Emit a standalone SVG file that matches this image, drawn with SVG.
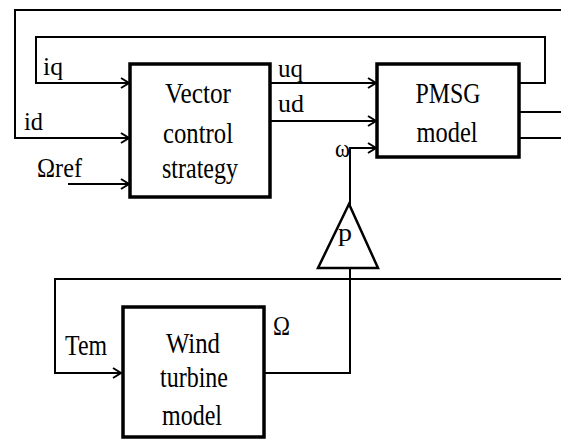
<svg xmlns="http://www.w3.org/2000/svg" width="561" height="439" viewBox="0 0 561 439">
<defs>
<style>
.box{fill:#fff;stroke:#000;stroke-width:3.5}
.ln{fill:none;stroke:#000;stroke-width:2}
.t{font-family:"Liberation Serif","Times New Roman",serif;font-size:30px;fill:#000;text-anchor:middle}
.l{font-family:"Liberation Serif","Times New Roman",serif;font-size:26px;fill:#000}
</style>
<marker id="arr" markerUnits="userSpaceOnUse" markerWidth="12" markerHeight="12" refX="9" refY="6" orient="auto">
<path d="M1,1 L9,6 L1,11" fill="none" stroke="#000" stroke-width="2"/>
</marker>
</defs>
<rect width="561" height="439" fill="#fff"/>
<g id="connectors">
<path class="ln" d="M561,10 H15 V138 H129" marker-end="url(#arr)"/>
<path class="ln" d="M519,83 H545 V37 H36 V83 H129" marker-end="url(#arr)"/>
<path class="ln" d="M68,184 H129" marker-end="url(#arr)"/>
<path class="ln" d="M271,83 H376" marker-end="url(#arr)"/>
<path class="ln" d="M271,121 H376" marker-end="url(#arr)"/>
<path class="ln" d="M350,205 V148 H376" marker-end="url(#arr)"/>
<path class="ln" d="M265,373 H350 V268"/>
<path class="ln" d="M561,279 H55 V373 H121" marker-end="url(#arr)"/>
<path class="ln" d="M519,112 H561"/>
<path class="ln" d="M519,138 H561"/>
<text class="l" x="43" y="75" textLength="20" lengthAdjust="spacingAndGlyphs">iq</text>
<text class="l" x="24" y="130" textLength="19" lengthAdjust="spacingAndGlyphs">id</text>
<text class="l" x="37" y="177" textLength="45" lengthAdjust="spacingAndGlyphs" style="font-size:27px">Ωref</text>
<text class="l" x="278" y="77" textLength="25" lengthAdjust="spacingAndGlyphs">uq</text>
<text class="l" x="278" y="112" textLength="26" lengthAdjust="spacingAndGlyphs">ud</text>
<text class="l" x="335" y="157" textLength="15" lengthAdjust="spacingAndGlyphs">ω</text>
<text class="l" x="65" y="355" textLength="42" lengthAdjust="spacingAndGlyphs" style="font-size:29px">Tem</text>
<text class="l" x="273" y="335" textLength="17" lengthAdjust="spacingAndGlyphs" style="font-size:27px">Ω</text>
</g>
<g id="vector-control">
<rect class="box" x="130" y="64" width="140" height="133"/>
<text class="t" x="198" y="103" textLength="66" lengthAdjust="spacingAndGlyphs">Vector</text>
<text class="t" x="198" y="143" textLength="70" lengthAdjust="spacingAndGlyphs">control</text>
<text class="t" x="200" y="178" textLength="76" lengthAdjust="spacingAndGlyphs">strategy</text>
</g>
<g id="pmsg">
<rect class="box" x="377" y="64" width="142" height="93"/>
<text class="t" x="448" y="103" textLength="65" lengthAdjust="spacingAndGlyphs">PMSG</text>
<text class="t" x="447" y="142" textLength="61" lengthAdjust="spacingAndGlyphs">model</text>
</g>
<g id="gain-p">
<polygon points="349,204 318,268 378,268" fill="#fff" stroke="#000" stroke-width="2.5" stroke-linejoin="miter"/>
<text class="l" x="338" y="241" textLength="14" lengthAdjust="spacingAndGlyphs">p</text>
</g>
<g id="wind-turbine">
<rect class="box" x="123" y="307" width="141" height="130"/>
<text class="t" x="193" y="353" textLength="54" lengthAdjust="spacingAndGlyphs">Wind</text>
<text class="t" x="194" y="387" textLength="68" lengthAdjust="spacingAndGlyphs">turbine</text>
<text class="t" x="192" y="425" textLength="60" lengthAdjust="spacingAndGlyphs">model</text>
</g>
</svg>
